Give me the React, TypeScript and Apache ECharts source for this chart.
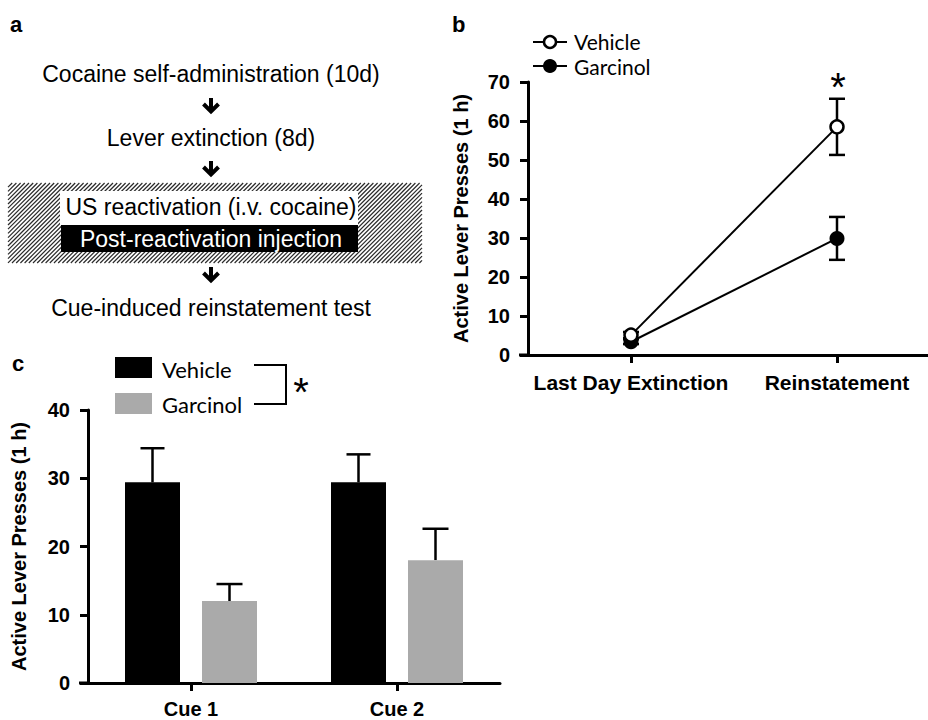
import React, { useEffect, useRef } from "react";
import * as echarts from "echarts";

// ---------- data ----------
const stepsA = [
  "Cocaine self-administration (10d)",
  "Lever extinction (8d)",
  "US reactivation (i.v. cocaine)",
  "Post-reactivation injection",
  "Cue-induced reinstatement test",
];

const groupNames = ["Vehicle", "Garcinol"];

const phasesB = ["Last Day Extinction", "Reinstatement"];
const vehicleB = [5.1, 58.5];
const vehicleBErr = [0.8, 7.2];
const garcinolB = [3.4, 29.9];
const garcinolBErr = [0.6, 5.5];

const cuesC = ["Cue 1", "Cue 2"];
const vehicleC = [29.4, 29.4];
const vehicleCErr = [5.0, 4.1];
const garcinolC = [12.0, 18.0];
const garcinolCErr = [2.5, 4.6];

const yAxisTitle = "Active Lever Presses (1 h)";

// ---------- styles ----------
const FONT = "'Liberation Sans', Arial, sans-serif";
const LEG_FONT = "Lato, sans-serif";
const BAR_W = 55;
const BAR_GAP = 22;
const GREY = "#aaaaaa";

function hatchLines(x0: number, y0: number, x1: number, y1: number, step: number) {
  const out: any[] = [];
  for (let c = x0 + y0 + step; c < x1 + y1; c += step) {
    const xs = Math.max(x0, c - y1);
    const xe = Math.min(x1, c - y0);
    if (xe <= xs) continue;
    out.push({
      type: "line",
      silent: true,
      shape: { x1: xs, y1: c - xs, x2: xe, y2: c - xe },
      style: { stroke: "#2a2a2a", lineWidth: 1.2 },
    });
  }
  return out;
}

function arrow(cx: number, top: number) {
  return [
    {
      type: "line",
      shape: { x1: cx, y1: top, x2: cx, y2: top + 14 },
      style: { stroke: "#000", lineWidth: 4 },
    },
    {
      type: "polyline",
      shape: { points: [[cx - 7.5, top + 6], [cx, top + 13.5], [cx + 7.5, top + 6]] },
      style: { stroke: "#000", lineWidth: 4, fill: "none" },
    },
  ];
}

function txt(text: string, x: number, y: number, size: number, opts: any = {}) {
  return {
    type: "text",
    style: {
      text,
      x,
      y,
      fill: opts.fill || "#000",
      fontSize: size,
      lineHeight: opts.lineHeight || undefined,
      fontFamily: opts.family || FONT,
      fontWeight: opts.weight || "normal",
      align: opts.align || "center",
      verticalAlign: "middle",
    },
    z: 20,
  };
}

function errRender(offset: number, cap: number, both: boolean, lw: number) {
  return (params: any, api: any) => {
    const i = api.value(0);
    const v = api.value(1);
    const e = api.value(2);
    const mid = api.coord([i, v]);
    const top = api.coord([i, v + e]);
    const bot = both ? api.coord([i, v - e]) : mid;
    const x = mid[0] + offset;
    const st = { stroke: "#000", lineWidth: lw };
    const children: any[] = [
      { type: "line", shape: { x1: x, y1: top[1], x2: x, y2: bot[1] }, style: st },
      { type: "line", shape: { x1: x - cap, y1: top[1], x2: x + cap, y2: top[1] }, style: st },
    ];
    if (both) {
      children.push({ type: "line", shape: { x1: x - cap, y1: bot[1], x2: x + cap, y2: bot[1] }, style: st });
    }
    return { type: "group", children };
  };
}

const axisCommon = {
  axisLine: { show: true, lineStyle: { color: "#000", width: 3 } },
  axisTick: { show: true, length: 8, lineStyle: { color: "#000", width: 3 } },
  splitLine: { show: false },
};

export default function App() {
  const ref = useRef<HTMLDivElement>(null);

  useEffect(() => {
    if (!ref.current) return;
    const chart = echarts.init(ref.current, undefined, { renderer: "svg" });

    const graphics: any[] = [
      // panel a
      txt("a", 10, 24, 22, { weight: "bold", align: "left" }),
      txt(stepsA[0], 211, 74, 23),
      ...arrow(211, 98),
      txt(stepsA[1], 211, 138, 23),
      ...arrow(211, 161),
      ...hatchLines(8, 183, 422, 263, 4.2),
      { type: "rect", shape: { x: 60, y: 191, width: 298, height: 34 }, style: { fill: "#fff" }, z: 5 },
      { type: "rect", shape: { x: 61, y: 225, width: 297, height: 27 }, style: { fill: "#000" }, z: 6 },
      txt(stepsA[2], 211, 207, 23),
      txt(stepsA[3], 211, 239, 23, { fill: "#fff" }),
      ...arrow(211, 267),
      txt(stepsA[4], 211, 308, 23),

      // panel b
      txt("b", 452, 24, 22, { weight: "bold", align: "left" }),
      { type: "line", shape: { x1: 533, y1: 42, x2: 567, y2: 42 }, style: { stroke: "#000", lineWidth: 2 } },
      { type: "circle", shape: { cx: 550, cy: 42, r: 6 }, style: { fill: "#fff", stroke: "#000", lineWidth: 2.5 } },
      txt(groupNames[0], 574, 41, 21, { family: LEG_FONT, align: "left", lineHeight: 21 }),
      { type: "line", shape: { x1: 533, y1: 66, x2: 567, y2: 66 }, style: { stroke: "#000", lineWidth: 2 } },
      { type: "circle", shape: { cx: 550, cy: 66, r: 7 }, style: { fill: "#000" } },
      txt(groupNames[1], 574, 66, 21, { family: LEG_FONT, align: "left", lineHeight: 21 }),
      { type: "line", shape: { x1: 519, y1: 355, x2: 529, y2: 355 }, style: { stroke: "#000", lineWidth: 3 } },
      txt("*", 838, 87, 40, { family: FONT }),

      // panel c
      txt("c", 12, 363, 22, { weight: "bold", align: "left" }),
      { type: "rect", shape: { x: 115, y: 357, width: 37, height: 21 }, style: { fill: "#000" } },
      txt(groupNames[0], 162, 369, 22, { family: LEG_FONT, align: "left" }),
      { type: "rect", shape: { x: 115, y: 393, width: 37, height: 21 }, style: { fill: GREY } },
      txt(groupNames[1], 162, 404, 22, { family: LEG_FONT, align: "left" }),
      {
        type: "polyline",
        shape: { points: [[254, 365], [286, 365], [286, 404], [254, 404]] },
        style: { stroke: "#000", lineWidth: 2, fill: "none" },
      },
      txt("*", 301, 392, 40, { family: FONT }),
      { type: "line", shape: { x1: 79, y1: 683, x2: 89, y2: 683 }, style: { stroke: "#000", lineWidth: 3 } },
    ];

    const labelStyle = { color: "#000", fontSize: 20, fontWeight: "bold", fontFamily: FONT };
    const off = (BAR_W + BAR_GAP) / 2;

    chart.setOption({
      animation: false,
      grid: [
        { left: 528, top: 82, width: 412, height: 273, outerBoundsMode: "none", containLabel: false },
        { left: 88, top: 410, width: 412, height: 273, outerBoundsMode: "none", containLabel: false },
      ],
      xAxis: [
        {
          gridIndex: 0,
          type: "category",
          data: phasesB,
          ...axisCommon,
          axisTick: { ...axisCommon.axisTick, alignWithLabel: true },
          axisLabel: { ...labelStyle, fontSize: 21, margin: 17, interval: 0 },
        },
        {
          gridIndex: 1,
          type: "category",
          data: cuesC,
          ...axisCommon,
          axisTick: { ...axisCommon.axisTick, alignWithLabel: true },
          axisLabel: { ...labelStyle, fontSize: 20, lineHeight: 20, margin: 16, interval: 0 },
        },
      ],
      yAxis: [
        {
          gridIndex: 0,
          type: "value",
          min: 0,
          max: 70,
          interval: 10,
          ...axisCommon,
          axisLabel: { ...labelStyle, margin: 18 },
          name: yAxisTitle,
          nameLocation: "middle",
          nameGap: 57,
          nameTextStyle: { ...labelStyle },
        },
        {
          gridIndex: 1,
          type: "value",
          min: 0,
          max: 40,
          interval: 10,
          ...axisCommon,
          axisLabel: { ...labelStyle, margin: 18 },
          name: yAxisTitle,
          nameLocation: "middle",
          nameGap: 59,
          nameTextStyle: { ...labelStyle },
        },
      ],
      series: [
        {
          type: "custom",
          name: "Vehicle err b",
          xAxisIndex: 0,
          yAxisIndex: 0,
          z: 1,
          silent: true,
          renderItem: errRender(0, 8, true, 2.5),
          data: phasesB.map((_, i) => [i, vehicleB[i], vehicleBErr[i]]),
        },
        {
          type: "custom",
          name: "Garcinol err b",
          xAxisIndex: 0,
          yAxisIndex: 0,
          z: 1,
          silent: true,
          renderItem: errRender(0, 8, true, 2.5),
          data: phasesB.map((_, i) => [i, garcinolB[i], garcinolBErr[i]]),
        },
        {
          type: "line",
          name: groupNames[1],
          xAxisIndex: 0,
          yAxisIndex: 0,
          z: 3,
          data: garcinolB,
          symbol: "circle",
          symbolSize: 15,
          itemStyle: { color: "#000" },
          lineStyle: { color: "#000", width: 2 },
        },
        {
          type: "line",
          name: groupNames[0],
          xAxisIndex: 0,
          yAxisIndex: 0,
          z: 4,
          data: vehicleB,
          symbol: "circle",
          symbolSize: 13,
          itemStyle: { color: "#fff", borderColor: "#000", borderWidth: 2.5 },
          lineStyle: { color: "#000", width: 2 },
        },
        {
          type: "bar",
          name: groupNames[0],
          xAxisIndex: 1,
          yAxisIndex: 1,
          z: 3,
          data: vehicleC,
          barWidth: BAR_W,
          barGap: (BAR_GAP / BAR_W) * 100 + "%",
          itemStyle: { color: "#000" },
        },
        {
          type: "bar",
          name: groupNames[1],
          xAxisIndex: 1,
          yAxisIndex: 1,
          z: 3,
          data: garcinolC,
          barWidth: BAR_W,
          barGap: (BAR_GAP / BAR_W) * 100 + "%",
          itemStyle: { color: GREY },
        },
        {
          type: "custom",
          name: "Vehicle err c",
          xAxisIndex: 1,
          yAxisIndex: 1,
          z: 1,
          silent: true,
          renderItem: errRender(-off, 12, false, 2.5),
          data: cuesC.map((_, i) => [i, vehicleC[i], vehicleCErr[i]]),
        },
        {
          type: "custom",
          name: "Garcinol err c",
          xAxisIndex: 1,
          yAxisIndex: 1,
          z: 1,
          silent: true,
          renderItem: errRender(off, 13, false, 2.5),
          data: cuesC.map((_, i) => [i, garcinolC[i], garcinolCErr[i]]),
        },
      ],
      graphic: graphics,
    });

    return () => chart.dispose();
  }, []);

  return (
    <div
      ref={ref}
      style={{ position: "fixed", left: 0, top: 0, width: 940, height: 720, background: "#fff" }}
    />
  );
}
